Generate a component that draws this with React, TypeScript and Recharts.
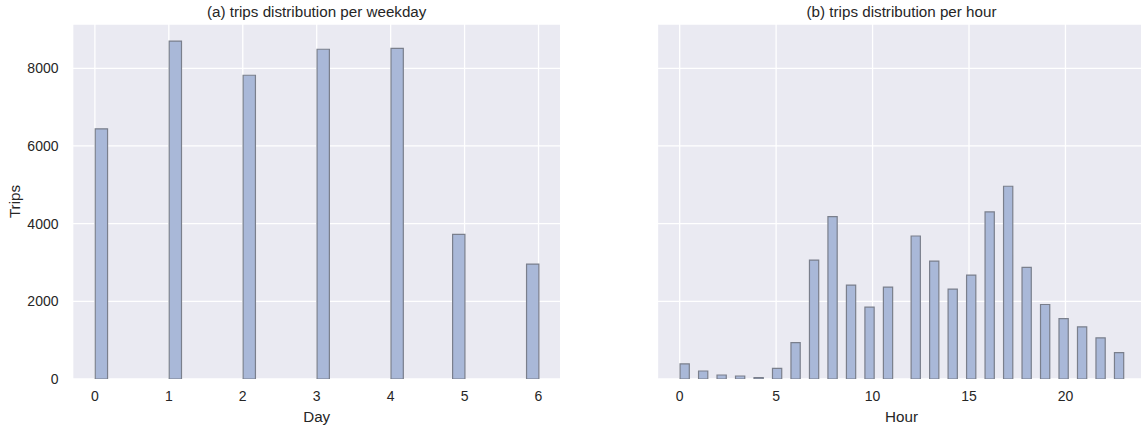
import { BarChart, Bar, XAxis, YAxis, CartesianGrid } from 'recharts'

// weekday histogram (36 bins over 0..6)
const days = [0, 1, 2, 3, 4, 5, 6]
const dayTrips = [6440, 8700, 7820, 8490, 8515, 3725, 2960]
const dayBinIndex = [0, 6, 12, 18, 24, 29, 35]
const DAY_BINS = 36
const DAY_RANGE = 6

// hourly histogram (48 bins over 0..23)
const hours = [
  0, 1, 2, 3, 4, 5, 6, 7, 8, 9, 10, 11, 12, 13, 14, 15, 16, 17, 18, 19, 20, 21, 22, 23,
]
const hourTrips = [
  387, 206, 103, 77, 34, 275, 938, 3062, 4181, 2417, 1849, 2366, 3682, 3037, 2314, 2675,
  4301, 4963, 2873, 1918, 1557, 1342, 1058, 680,
]
const HOUR_BINS = 48
const HOUR_RANGE = 23

const dayTicks = [0, 1, 2, 3, 4, 5, 6]
const hourTicks = [0, 5, 10, 15, 20]
const tripTicks = [0, 2000, 4000, 6000, 8000]
const Y_MAX = 9140

const FONT = '"Liberation Sans", Arial, sans-serif'
const TEXT = '#262626'
const BG = '#EAEAF2'
const BAR_FILL = '#a9b8d8'
const BAR_EDGE = '#7a7f8c'

const PLOT_W = 488
const PLOT_TOP = 24
const PLOT_BOTTOM = 379
const H = 428

const dayW = DAY_RANGE / DAY_BINS
const dayData = days.map((d, i) => ({
  day: d,
  x: (dayBinIndex[i] + 0.5) * dayW,
  trips: dayTrips[i],
}))

const hourW = HOUR_RANGE / HOUR_BINS
const hourData = hours.map((h, i) => ({
  hour: h,
  x: (Math.min(Math.floor((h * HOUR_BINS) / HOUR_RANGE), HOUR_BINS - 1) + 0.5) * hourW,
  trips: hourTrips[i],
}))

const dayDomain = [-0.05 * DAY_RANGE, DAY_RANGE * 1.05]
const hourDomain = [-0.05 * HOUR_RANGE, HOUR_RANGE * 1.05]
const dayBarPx = (dayW / (dayDomain[1] - dayDomain[0])) * PLOT_W
const hourBarPx = (hourW / (hourDomain[1] - hourDomain[0])) * PLOT_W

const tickStyle = { fontSize: 14, fill: TEXT, fontFamily: FONT }
const labelStyle = { fontSize: 15.2, fill: TEXT, fontFamily: FONT }

function Title({ text, center }: { text: string; center: number }) {
  return (
    <div
      style={{
        position: 'absolute',
        left: center - 200,
        width: 400,
        top: 3,
        textAlign: 'center',
        fontFamily: FONT,
        fontSize: 15.2,
        lineHeight: '18px',
        color: TEXT,
      }}
    >
      {text}
    </div>
  )
}

export default function App() {
  const leftX = 72.7
  const rightX = 657.5
  return (
    <div
      style={{
        position: 'absolute',
        left: 0,
        top: 0,
        width: 1141,
        height: H,
        overflow: 'hidden',
        background: '#fff',
      }}
    >
      <Title text="(a) trips distribution per weekday" center={leftX + PLOT_W / 2} />
      <Title text="(b) trips distribution per hour" center={rightX + PLOT_W / 2} />

      <div style={{ position: 'absolute', left: 0, top: 0 }}>
        <BarChart
          width={600}
          height={H}
          data={dayData}
          margin={{ top: PLOT_TOP, right: 600 - leftX - PLOT_W, bottom: 0, left: 0 }}
        >
          <CartesianGrid fill={BG} stroke="#fff" strokeWidth={1.3} />
          <XAxis
            dataKey="x"
            type="number"
            domain={dayDomain}
            ticks={dayTicks}
            interval={0}
            allowDataOverflow
            height={H - PLOT_BOTTOM}
            axisLine={false}
            tickLine={false}
            tickSize={0}
            tickMargin={12.5}
            tick={tickStyle}
            label={{ value: 'Day', position: 'insideBottom', offset: 6, style: labelStyle }}
          />
          <YAxis
            domain={[0, Y_MAX]}
            ticks={tripTicks}
            interval={0}
            allowDataOverflow
            width={leftX}
            axisLine={false}
            tickLine={false}
            tickSize={0}
            tickMargin={14.2}
            tick={tickStyle}
            label={{
              value: 'Trips',
              angle: -90,
              position: 'insideLeft',
              offset: 15,
              style: { ...labelStyle, textAnchor: 'middle' },
            }}
          />
          <Bar
            dataKey="trips"
            barSize={dayBarPx}
            fill={BAR_FILL}
            stroke={BAR_EDGE}
            strokeWidth={1.2}
            isAnimationActive={false}
          />
        </BarChart>
      </div>

      <div style={{ position: 'absolute', left: 600, top: 0 }}>
        <BarChart
          width={560}
          height={H}
          data={hourData}
          margin={{ top: PLOT_TOP, right: 560 - (rightX - 600) - PLOT_W, bottom: 0, left: rightX - 600 }}
        >
          <CartesianGrid fill={BG} stroke="#fff" strokeWidth={1.3} />
          <XAxis
            dataKey="x"
            type="number"
            domain={hourDomain}
            ticks={hourTicks}
            interval={0}
            allowDataOverflow
            height={H - PLOT_BOTTOM}
            axisLine={false}
            tickLine={false}
            tickSize={0}
            tickMargin={12.5}
            tick={tickStyle}
            label={{ value: 'Hour', position: 'insideBottom', offset: 6, style: labelStyle }}
          />
          <YAxis hide domain={[0, Y_MAX]} ticks={tripTicks} interval={0} allowDataOverflow />
          <Bar
            dataKey="trips"
            barSize={hourBarPx}
            fill={BAR_FILL}
            stroke={BAR_EDGE}
            strokeWidth={1.2}
            isAnimationActive={false}
          />
        </BarChart>
      </div>
    </div>
  )
}
